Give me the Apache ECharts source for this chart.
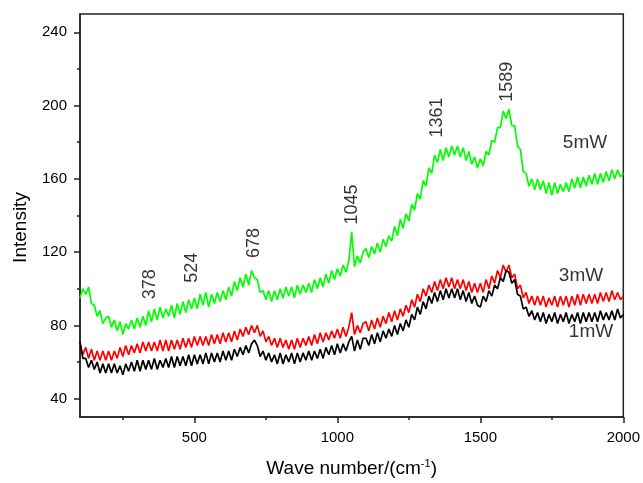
<!DOCTYPE html>
<html>
<head>
<meta charset="utf-8">
<script src="https://cdn.jsdelivr.net/npm/echarts@6/dist/echarts.min.js"></script>
<style>
html,body{margin:0;padding:0;background:#fff;}
#chart{width:643px;height:483px;}
</style>
</head>
<body>
<div id="chart"></div>
<script>
// Sampling grid of the spectra (cm^-1), 100..2000 step 10
const waveNumbers = [];
for (let w = 100; w <= 2000; w += 10) waveNumbers.push(w);

// 5mW (green) intensities, one value per grid point
const intensity5mW = [
  95,100,97,101,92,91,85,88,81,84,
  85,79,83,77,82,75,81,78,83,78,
  84,79,85,80,88,82,89,83,90,84,
  89,85,91,84,92,86,93,87,94,89,
  95,89,97,91,98,90,97,92,98,93,
  99,94,101,96,104,99,106,101,108,102,
  110,106,105,98,99,94,99,93,99,94,
  100,95,101,96,101,95,102,97,102,98,
  103,98,105,100,106,101,108,103,110,105,
  111,107,113,109,115,131,112,118,114,120,
  122,117,123,119,125,120,127,123,129,126,
  134,129,138,133,141,137,146,143,152,149,
  159,156,166,163,173,169,176,170,177,172,
  178,173,178,172,177,170,175,168,172,166,
  171,167,175,173,181,180,188,188,197,193,
  198,189,189,178,176,164,163,156,160,154,
  160,154,159,152,158,151,158,152,157,153,
  158,153,160,155,161,155,161,156,162,157,
  163,157,163,158,164,159,165,160,165,161,
  163
];

// 3mW (red)
const intensity3mW = [
  70,64,68,62,67,61,66,61,66,61,
  66,61,66,62,68,63,69,64,69,65,
  70,65,71,66,71,66,71,66,72,66,
  72,66,72,67,72,67,73,68,73,68,
  74,69,74,69,74,69,75,70,75,70,
  76,71,76,71,77,72,78,74,79,75,
  80,76,80,74,77,71,74,69,73,68,
  73,68,72,67,72,67,73,68,73,69,
  74,69,75,70,76,71,76,72,77,73,
  78,73,79,74,79,87,75,80,76,81,
  82,77,83,78,84,79,85,81,87,82,
  88,83,89,85,91,87,94,90,97,93,
  100,96,102,98,104,99,105,100,106,101,
  106,100,105,100,105,99,104,98,103,98,
  103,98,105,100,107,103,110,106,113,109,
  113,106,108,100,102,95,98,92,96,91,
  96,91,96,90,95,91,96,90,96,91,
  96,90,96,91,97,91,97,92,97,92,
  97,92,98,93,98,93,99,94,98,94,
  96
];

// 1mW (black)
const intensity1mW = [
  71,62,62,57,61,56,60,54,59,54,
  59,54,59,54,58,53,59,55,60,55,
  61,55,61,56,61,56,62,56,61,57,
  62,57,63,57,63,58,63,58,64,58,
  64,59,64,59,65,59,65,60,65,60,
  66,61,66,61,67,63,68,64,69,65,
  70,72,69,63,66,61,65,60,64,59,
  65,59,64,60,65,59,65,60,65,61,
  66,61,66,62,67,62,68,64,69,64,
  70,65,70,66,71,74,66,72,67,73,
  73,69,75,70,76,71,77,73,78,74,
  80,75,81,77,83,79,86,83,90,86,
  93,89,96,92,98,93,99,94,100,95,
  100,95,100,94,99,93,98,92,96,91,
  90,96,93,99,96,102,100,106,104,110,
  109,103,105,97,96,89,90,85,88,83,
  87,82,87,81,86,82,87,81,86,82,
  87,81,86,82,87,81,87,82,87,82,
  87,82,88,83,87,83,88,83,89,84,
  86
];

const seriesNames = ['5mW', '3mW', '1mW'];

// Peak annotations: [wave number, intensity, text]
const peakLabels = [
  [345, 102.5, '378'],
  [493, 111.5, '524'],
  [709, 125, '678'],
  [1053, 146, '1045'],
  [1349, 193.5, '1361'],
  [1595, 213, '1589']
];
// Series name labels: [wave number, intensity, text]
const seriesLabels = [
  [1866, 179.5, '5mW'],
  [1852, 107, '3mW'],
  [1887, 76.5, '1mW']
];

const xMajorTicks = [500, 1000, 1500, 2000];
const xMinorTicks = [250, 750, 1250, 1750];
const yMajorTicks = [40, 80, 120, 160, 200, 240];
const yMinorTicks = [60, 100, 140, 180, 220];

const pairs = vals => waveNumbers.map((w, i) => [w, vals[i]]);

const FONT = 'Liberation Sans, Arial, sans-serif';
const AXIS_COLOR = '#222';
const TEXT_COLOR = '#000';

const chart = echarts.init(document.getElementById('chart'), null, {renderer: 'canvas'});

const baseX = {
  type: 'value', min: 100, max: 2000, position: 'bottom',
  splitLine: {show: false}
};
const baseY = {
  type: 'value', min: 30, max: 250, position: 'left',
  splitLine: {show: false}
};

chart.setOption({
  animation: false,
  backgroundColor: '#fff',
  grid: {
    left: 80, right: 17, top: 14, bottom: 64,
    show: true, borderColor: AXIS_COLOR, borderWidth: 1.5,
    backgroundColor: 'transparent'
  },
  xAxis: [
    Object.assign({}, baseX, {
      name: 'Wave number/(cm{sup|-1})',
      nameLocation: 'middle', nameGap: 41,
      nameTextStyle: {
        fontFamily: FONT, fontSize: 19, color: TEXT_COLOR,
        rich: {sup: {fontFamily: FONT, fontSize: 11, color: TEXT_COLOR, verticalAlign: 'top', padding: [0, 0, 10, 0]}}
      },
      axisLine: {show: true, lineStyle: {color: AXIS_COLOR, width: 1.5}},
      axisTick: {show: true, inside: false, length: 6, customValues: xMajorTicks, lineStyle: {color: AXIS_COLOR, width: 1.5}},
      axisLabel: {show: true, customValues: xMajorTicks, margin: 13, fontFamily: FONT, fontSize: 15, color: TEXT_COLOR, formatter: v => String(v)}
    }),
    Object.assign({}, baseX, {
      axisLine: {show: false},
      axisTick: {show: true, inside: false, length: 3, customValues: xMinorTicks, lineStyle: {color: AXIS_COLOR, width: 1.5}},
      axisLabel: {show: false}
    })
  ],
  yAxis: [
    Object.assign({}, baseY, {
      name: 'Intensity',
      nameLocation: 'middle', nameGap: 50,
      nameTextStyle: {fontFamily: FONT, fontSize: 19, color: TEXT_COLOR, padding: [0, 24, 0, 0]},
      axisLine: {show: true, lineStyle: {color: AXIS_COLOR, width: 1.5}},
      axisTick: {show: true, inside: false, length: 6, customValues: yMajorTicks, lineStyle: {color: AXIS_COLOR, width: 1.5}},
      axisLabel: {show: true, customValues: yMajorTicks, margin: 13, fontFamily: FONT, fontSize: 15, color: TEXT_COLOR, formatter: v => String(v)}
    }),
    Object.assign({}, baseY, {
      axisLine: {show: false},
      axisTick: {show: true, inside: false, length: 3, customValues: yMinorTicks, lineStyle: {color: AXIS_COLOR, width: 1.5}},
      axisLabel: {show: false}
    })
  ],
  series: [
    {
      name: seriesNames[0], type: 'line', data: pairs(intensity5mW),
      showSymbol: false, symbol: 'none',
      lineStyle: {color: '#00ff00', width: 1.7}, z: 2
    },
    {
      name: seriesNames[1], type: 'line', data: pairs(intensity3mW),
      showSymbol: false, symbol: 'none',
      lineStyle: {color: '#ff0000', width: 1.7}, z: 3
    },
    {
      name: 'peak labels', type: 'scatter', data: peakLabels,
      symbolSize: 1, itemStyle: {color: 'transparent'}, silent: true, z: 1,
      label: {
        show: true, position: 'inside', rotate: 90,
        formatter: p => p.data[2],
        fontFamily: FONT, fontSize: 18, color: TEXT_COLOR
      }
    },
    {
      name: 'series labels', type: 'scatter', data: seriesLabels,
      symbolSize: 1, itemStyle: {color: 'transparent'}, silent: true, z: 1,
      label: {
        show: true, position: 'inside',
        formatter: p => p.data[2],
        fontFamily: FONT, fontSize: 19, color: TEXT_COLOR
      }
    },
    {
      name: seriesNames[2], type: 'line', data: pairs(intensity1mW),
      showSymbol: false, symbol: 'none',
      lineStyle: {color: '#000000', width: 1.7}, z: 4
    }
  ]
});
</script>
</body>
</html>
